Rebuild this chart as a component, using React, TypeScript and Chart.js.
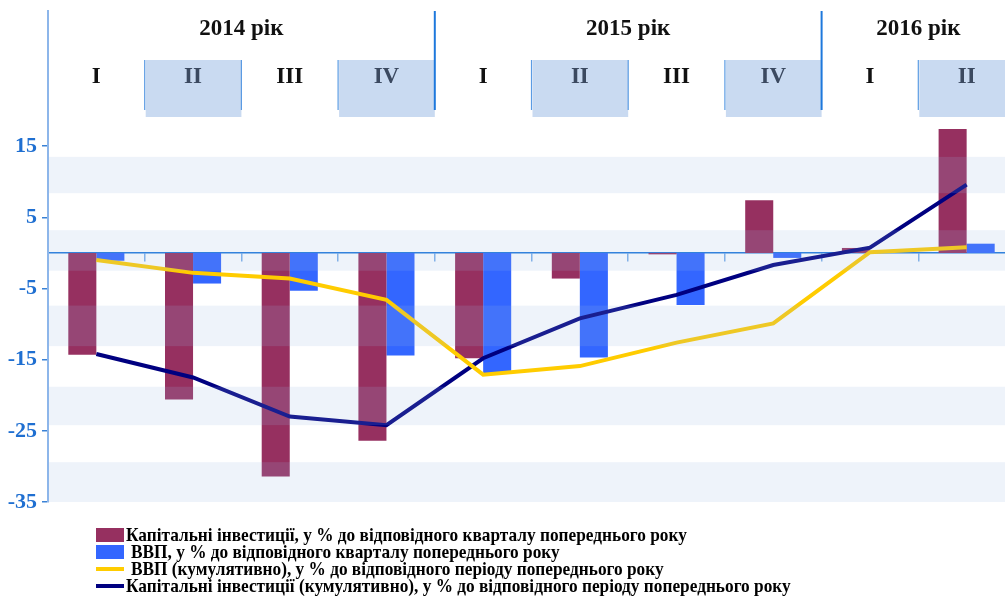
import React, { useEffect, useRef } from "react";
import { Chart, registerables } from "chart.js";
Chart.register(...registerables);

const quarters = ["I", "II", "III", "IV", "I", "II", "III", "IV", "I", "II"];
const years = ["2014 рік", "2015 рік", "2016 рік"];
const yearQuarterCounts = [4, 4, 2];
const capInvQuarterly = [-14.3, -20.6, -31.4, -26.4, -14.8, -3.6, -0.2, 7.4, 0.7, 17.4];
const gdpQuarterly = [-1.1, -4.3, -5.3, -14.4, -17.0, -14.7, -7.3, -0.7, 0.0, 1.3];
const gdpCumulative = [-1.0, -2.8, -3.6, -6.6, -17.1, -15.9, -12.6, -9.9, 0.1, 0.8];
const capInvCumulative = [-14.2, -17.5, -23.0, -24.2, -14.8, -9.2, -5.9, -1.7, 0.75, 9.6];
const yTicks = [-35, -25, -15, -5, 5, 15];
const bandRanges = [
  [8.4, 13.5],
  [-2.5, 3.2],
  [-13.1, -7.4],
  [-24.2, -18.8],
  [-35, -29.4],
];
const legendLabels = [
  "Капітальні інвестиції, у % до відповідного кварталу попереднього року",
  "ВВП, у % до відповідного кварталу попереднього року",
  "ВВП (кумулятивно), у % до відповідного періоду попереднього року",
  "Капітальні інвестиції (кумулятивно), у % до відповідного періоду попереднього року",
];

const MAROON = "#963060";
const BLUE = "#3366ff";
const YELLOW = "#ffcc00";
const NAVY = "#000080";

const bandPlugin = {
  id: "bands",
  afterDatasetsDraw(chart: any) {
    const { ctx, chartArea } = chart;
    const y = chart.scales.y;
    ctx.save();
    ctx.fillStyle = "rgba(151,182,224,0.165)";
    bandRanges.forEach(([a, b]) => {
      const top = y.getPixelForValue(b);
      const bot = y.getPixelForValue(a);
      ctx.fillRect(chartArea.left + 1, top, chartArea.right - chartArea.left, bot - top);
    });
    ctx.restore();
  },
};

const headerPlugin = {
  id: "header",
  afterDraw(chart: any) {
    const { ctx } = chart;
    const x = chart.scales.x;
    const n = quarters.length;
    const w = (x.right - x.left) / n;
    ctx.save();
    for (let i = 0; i < n; i++) {
      const left = x.getPixelForValue(i) - w / 2;
      if (i % 2 === 1) {
        ctx.fillStyle = "#c9daf1";
        ctx.fillRect(left + 1, 60, w - 1, 57);
      }
    }
    const yearBounds = new Set<number>();
    let acc = 0;
    yearQuarterCounts.forEach((c) => {
      acc += c;
      yearBounds.add(acc);
    });
    for (let j = 1; j < n; j++) {
      const bx = x.getPixelForValue(j) - w / 2;
      ctx.beginPath();
      if (yearBounds.has(j)) {
        ctx.strokeStyle = "#1e78dc";
        ctx.lineWidth = 2;
        ctx.moveTo(bx, 11);
        ctx.lineTo(bx, 110);
      } else {
        ctx.strokeStyle = "#5b9be3";
        ctx.lineWidth = 1.2;
        ctx.moveTo(bx, 60);
        ctx.lineTo(bx, 110);
      }
      ctx.stroke();
    }
    ctx.textAlign = "center";
    ctx.textBaseline = "middle";
    ctx.font = "bold 23px 'Liberation Serif'";
    for (let i = 0; i < n; i++) {
      const cx = x.getPixelForValue(i);
      ctx.fillStyle = i % 2 === 1 ? "#3b4960" : "#111111";
      ctx.fillText(quarters[i], cx, 77);
    }
    ctx.font = "bold 23px 'Liberation Serif'";
    ctx.fillStyle = "#111111";
    let start = 0;
    yearQuarterCounts.forEach((c, k) => {
      const l = x.getPixelForValue(start) - w / 2;
      const r = x.getPixelForValue(start + c - 1) + w / 2;
      ctx.fillText(years[k], (l + r) / 2, 29);
      start += c;
    });
    ctx.restore();
  },
};

export default function App() {
  const ref = useRef<HTMLCanvasElement>(null);
  useEffect(() => {
    if (!ref.current) return;
    const chart = new Chart(ref.current, {
      type: "bar",
      data: {
        labels: quarters.map((q, i) => q + "-" + i),
        datasets: [
          {
            type: "line",
            label: legendLabels[2],
            data: gdpCumulative,
            borderColor: YELLOW,
            borderWidth: 4,
            pointRadius: 0,
            tension: 0,
            order: 1,
          } as any,
          {
            type: "line",
            label: legendLabels[3],
            data: capInvCumulative,
            borderColor: NAVY,
            borderWidth: 4,
            pointRadius: 0,
            tension: 0,
            order: 1,
          } as any,
          {
            type: "bar",
            label: legendLabels[0],
            data: capInvQuarterly,
            backgroundColor: MAROON,
            categoryPercentage: 0.58,
            barPercentage: 1,
            order: 2,
          },
          {
            type: "bar",
            label: legendLabels[1],
            data: gdpQuarterly,
            backgroundColor: BLUE,
            categoryPercentage: 0.58,
            barPercentage: 1,
            order: 2,
          },
        ],
      },
      options: {
        responsive: false,
        animation: false,
        devicePixelRatio: 1,
        layout: { padding: { top: 11, bottom: 94, left: 0, right: 5 } },
        plugins: { legend: { display: false }, tooltip: { enabled: false } },
        scales: {
          x: {
            type: "category",
            position: { y: 0 } as any,
            offset: true,
            z: 1,
            grid: {
              offset: true,
              drawOnChartArea: false,
              drawTicks: true,
              tickLength: 8,
              color: "#7eb0ea",
              lineWidth: 1.5,
            },
            border: { color: "#1e78dc", width: 1.5 },
            ticks: { display: false },
          },
          y: {
            min: -35,
            max: 34,
            afterBuildTicks: (s: any) => {
              s.ticks = yTicks.map((v) => ({ value: v }));
            },
            afterFit: (s: any) => {
              s.width = 48;
              s.paddingTop = 0;
              s.paddingBottom = 0;
            },
            grid: {
              drawOnChartArea: false,
              tickLength: 6,
              color: "#3a82d6",
              lineWidth: 1.5,
            },
            border: { color: "#8db6ea", width: 2 },
            ticks: {
              font: { family: "'Liberation Serif'", weight: "bold", size: 22 },
              color: "#1f6fd1",
              padding: 5,
              callback: (v: any) => String(v),
            },
          },
        },
      } as any,
      plugins: [bandPlugin, headerPlugin],
    });
    return () => chart.destroy();
  }, []);

  const markers = [
    { kind: "box", color: MAROON },
    { kind: "box", color: BLUE },
    { kind: "line", color: YELLOW },
    { kind: "line", color: NAVY },
  ];

  return (
    <div
      style={{
        position: "fixed",
        left: 0,
        top: 0,
        width: 1005,
        height: 596,
        overflow: "hidden",
        background: "#ffffff",
      }}
    >
      <canvas ref={ref} width={1020} height={596} style={{ display: "block", width: 1020, height: 596 }} />
      <div style={{ position: "absolute", left: 96, top: 526, width: 900 }}>
        {legendLabels.map((t, i) => (
          <div key={i} style={{ position: "relative", height: 17, display: "flex", alignItems: "center" }}>
            <div
              style={{
                width: 28,
                height: markers[i].kind === "box" ? 14 : 4,
                background: markers[i].color,
                flex: "none",
              }}
            />
            <div
              style={{
                marginLeft: i === 1 || i === 2 ? 7 : 2,
                fontFamily: "'Liberation Serif'",
                fontWeight: "bold",
                fontSize: 19,
                lineHeight: "17px",
                whiteSpace: "nowrap",
                color: "#000",
                transform: "scaleX(0.91)",
                transformOrigin: "left center",
              }}
            >
              {t}
            </div>
          </div>
        ))}
      </div>
    </div>
  );
}
